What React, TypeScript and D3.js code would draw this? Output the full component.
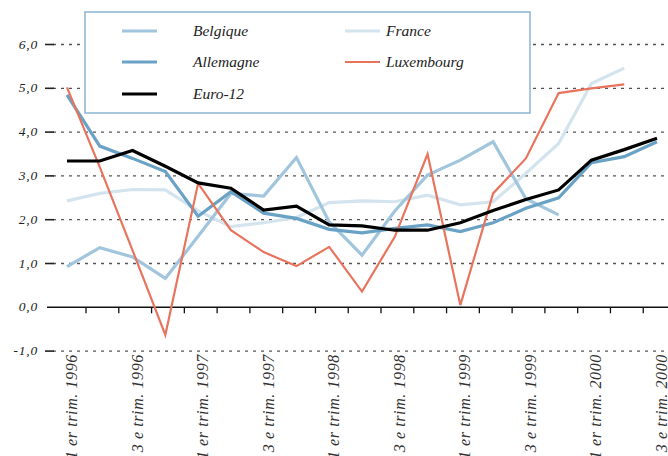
import {useRef, useEffect} from 'react';
import * as d3 from 'd3';

const QUARTERS = [
    '1 er trim. 1996', '2 e trim. 1996', '3 e trim. 1996', '4 e trim. 1996',
    '1 er trim. 1997', '2 e trim. 1997', '3 e trim. 1997', '4 e trim. 1997',
    '1 er trim. 1998', '2 e trim. 1998', '3 e trim. 1998', '4 e trim. 1998',
    '1 er trim. 1999', '2 e trim. 1999', '3 e trim. 1999', '4 e trim. 1999',
    '1 er trim. 2000', '2 e trim. 2000', '3 e trim. 2000'
];

const Y_TICKS = [-1, 0, 1, 2, 3, 4, 5, 6];

const BELGIQUE = [0.93, 1.36, 1.15, 0.66, 1.62, 2.6, 2.54, 3.42, 1.95, 1.19, 2.2, 3.02, 3.36, 3.78, 2.48, 2.11];
const FRANCE = [2.43, 2.6, 2.69, 2.68, 2.2, 1.84, 1.93, 2.05, 2.39, 2.43, 2.41, 2.56, 2.34, 2.41, 3.06, 3.74, 5.11, 5.46];
const ALLEMAGNE = [4.85, 3.68, 3.4, 3.1, 2.08, 2.64, 2.15, 2.03, 1.78, 1.7, 1.8, 1.88, 1.73, 1.93, 2.26, 2.5, 3.3, 3.44, 3.78];
const LUXEMBOURG = [5.02, 3.2, 1.3, -0.63, 2.83, 1.76, 1.26, 0.94, 1.38, 0.36, 1.61, 3.5, 0.05, 2.6, 3.4, 4.89, 5.0, 5.09];
const EURO = [3.34, 3.34, 3.58, 3.22, 2.84, 2.72, 2.22, 2.31, 1.88, 1.86, 1.76, 1.76, 1.93, 2.21, 2.46, 2.68, 3.36, 3.6, 3.86];

const SERIES = [
    {name: 'France', values: FRANCE, color: '#d4e4ef', width: 3.2},
    {name: 'Belgique', values: BELGIQUE, color: '#a0c5dc', width: 3.2},
    {name: 'Allemagne', values: ALLEMAGNE, color: '#6aa2c6', width: 3.2},
    {name: 'Luxembourg', values: LUXEMBOURG, color: '#e8745e', width: 2.2},
    {name: 'Euro-12', values: EURO, color: '#000000', width: 3.2}
];

// legend layout: [series name, column, row]
const LEGEND = [
    ['Belgique', 0, 0],
    ['Allemagne', 0, 1],
    ['Euro-12', 0, 2],
    ['France', 1, 0],
    ['Luxembourg', 1, 1]
];

const FONT = '"Liberation Serif", serif';

export default function App() {
    const svgRef = useRef(null);

    const CHART = {
        width: 668,
        height: 456,
        left: 67,
        right: 657,
        yTop: 44.5,
        yBottom: 351.1,
        gridStart: 45,
        gridEnd: 668
    };

    useEffect(() => {
        const svg = d3.select(svgRef.current);
        svg.selectAll('*').remove();

        const x = d3.scalePoint().domain(QUARTERS).range([CHART.left, CHART.right]);
        const y = d3.scaleLinear().domain([-1, 6]).range([CHART.yBottom, CHART.yTop]);

        // grid
        const grid = svg.append('g');
        Y_TICKS.forEach((t) => {
            if (t === 0) return;
            grid.append('line')
                .attr('x1', CHART.gridStart + 8).attr('x2', CHART.gridEnd)
                .attr('y1', y(t)).attr('y2', y(t))
                .attr('stroke', '#555').attr('stroke-width', 1.3)
                .attr('stroke-dasharray', '3,5');
            grid.append('line')
                .attr('x1', CHART.gridStart).attr('x2', CHART.gridStart + 9)
                .attr('y1', y(t)).attr('y2', y(t))
                .attr('stroke', '#222').attr('stroke-width', 1.6);
        });

        grid.selectAll('text.ylab')
            .data(Y_TICKS)
            .enter().append('text')
            .attr('x', 38)
            .attr('y', (d) => y(d) + 4)
            .attr('text-anchor', 'end')
            .attr('font-family', FONT)
            .attr('font-style', 'italic')
            .attr('font-size', 13.5)
            .attr('letter-spacing', 0.8)
            .attr('fill', '#222')
            .text((d) => d3.format('.1f')(d).replace('.', ',').replace('−', '-'));

        // zero axis with ticks between quarters
        const axis = svg.append('g');
        axis.append('line')
            .attr('x1', CHART.gridStart + 2).attr('x2', CHART.gridEnd)
            .attr('y1', y(0)).attr('y2', y(0))
            .attr('stroke', '#111').attr('stroke-width', 1.5);
        const tickOffset = x.step() * 0.58;
        axis.selectAll('line.tick')
            .data(QUARTERS.slice(0, -1))
            .enter().append('line')
            .attr('x1', (d) => x(d) + tickOffset).attr('x2', (d) => x(d) + tickOffset)
            .attr('y1', y(0)).attr('y2', y(0) + 6)
            .attr('stroke', '#111').attr('stroke-width', 1.3);

        // rotated category labels (every other quarter)
        axis.selectAll('text.xlab')
            .data(QUARTERS.filter((_, i) => i % 2 === 0))
            .enter().append('text')
            .attr('transform', (d) => `translate(${x(d) + 10}, ${CHART.yBottom + 3}) rotate(-90)`)
            .attr('text-anchor', 'end')
            .attr('font-family', FONT)
            .attr('font-style', 'italic')
            .attr('font-size', 16)
            .attr('letter-spacing', 0.6)
            .attr('fill', '#333')
            .text((d) => d);

        // legend box
        const legend = svg.append('g');
        legend.append('rect')
            .attr('x', 85).attr('y', 12).attr('width', 445).attr('height', 101)
            .attr('fill', '#fff').attr('stroke', '#8ab4cf').attr('stroke-width', 1.5);

        const colX = [122, 345];
        const textX = [193, 386];
        const rowY = [31, 62, 94];
        LEGEND.forEach(([name, col, row]) => {
            const s = SERIES.find((d) => d.name === name);
            legend.append('line')
                .attr('x1', colX[col]).attr('x2', colX[col] + 35)
                .attr('y1', rowY[row]).attr('y2', rowY[row])
                .attr('stroke', s.color).attr('stroke-width', s.width);
            legend.append('text')
                .attr('x', textX[col]).attr('y', rowY[row] + 5)
                .attr('font-family', FONT)
                .attr('font-style', 'italic')
                .attr('font-size', 15.5)
                .attr('fill', '#222')
                .text(name);
        });

        // series lines
        const line = d3.line()
            .x((_, i) => x(QUARTERS[i]))
            .y((d) => y(d));

        svg.append('g').selectAll('path')
            .data(SERIES)
            .enter().append('path')
            .attr('fill', 'none')
            .attr('stroke', (d) => d.color)
            .attr('stroke-width', (d) => d.width)
            .attr('stroke-linejoin', 'miter')
            .attr('d', (d) => line(d.values));
    }, []);

    return (
        <svg ref={svgRef} width={CHART.width} height={CHART.height}
            style={{position: 'absolute', left: 0, top: 0, background: '#fff'}} />
    );
};
